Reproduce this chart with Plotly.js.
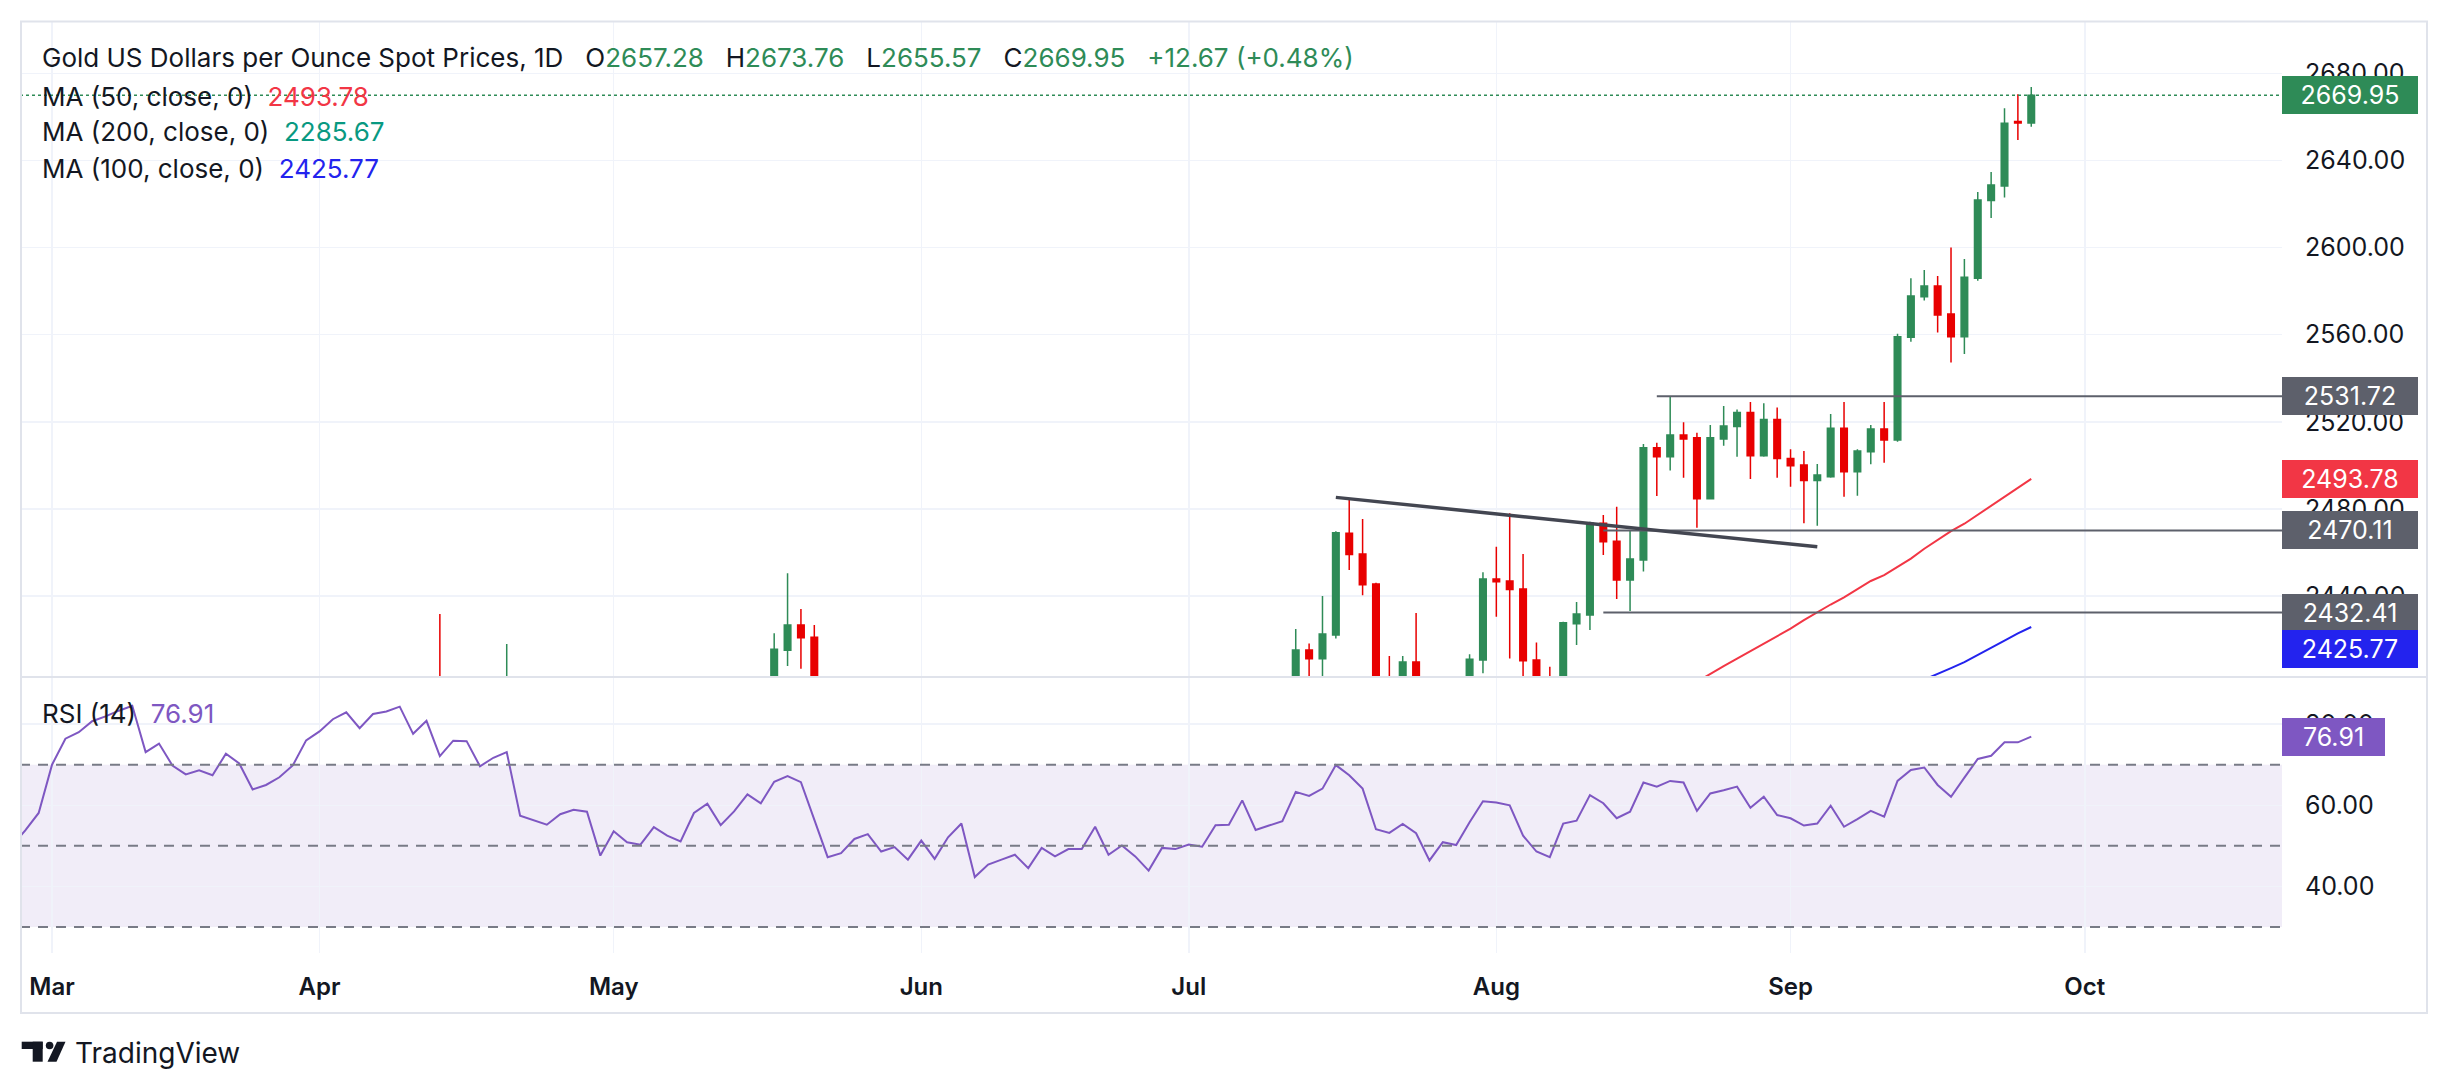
<!DOCTYPE html>
<html><head><meta charset="utf-8">
<script src="https://cdn.plot.ly/plotly-3.0.1.min.js"></script>
<style>html,body{margin:0;padding:0;background:#fff;} #chart{width:2449px;height:1091px;}</style>
</head><body><div id="chart"></div>
<script>
// ---------------- DATA ----------------
const tradingDays = [
 '2024-02-27','2024-02-28','2024-02-29',
 '2024-03-01','2024-03-04','2024-03-05','2024-03-06','2024-03-07','2024-03-08','2024-03-11','2024-03-12','2024-03-13','2024-03-14','2024-03-15','2024-03-18','2024-03-19','2024-03-20','2024-03-21','2024-03-22','2024-03-25','2024-03-26','2024-03-27','2024-03-28',
 '2024-04-01','2024-04-02','2024-04-03','2024-04-04','2024-04-05','2024-04-08','2024-04-09','2024-04-10','2024-04-11','2024-04-12','2024-04-15','2024-04-16','2024-04-17','2024-04-18','2024-04-19','2024-04-22','2024-04-23','2024-04-24','2024-04-25','2024-04-26','2024-04-29','2024-04-30',
 '2024-05-01','2024-05-02','2024-05-03','2024-05-06','2024-05-07','2024-05-08','2024-05-09','2024-05-10','2024-05-13','2024-05-14','2024-05-15','2024-05-16','2024-05-17','2024-05-20','2024-05-21','2024-05-22','2024-05-23','2024-05-24','2024-05-27','2024-05-28','2024-05-29','2024-05-30','2024-05-31',
 '2024-06-03','2024-06-04','2024-06-05','2024-06-06','2024-06-07','2024-06-10','2024-06-11','2024-06-12','2024-06-13','2024-06-14','2024-06-17','2024-06-18','2024-06-19','2024-06-20','2024-06-21','2024-06-24','2024-06-25','2024-06-26','2024-06-27','2024-06-28',
 '2024-07-01','2024-07-02','2024-07-03','2024-07-04','2024-07-05','2024-07-08','2024-07-09','2024-07-10','2024-07-11','2024-07-12','2024-07-15','2024-07-16','2024-07-17','2024-07-18','2024-07-19','2024-07-22','2024-07-23','2024-07-24','2024-07-25','2024-07-26','2024-07-29','2024-07-30','2024-07-31',
 '2024-08-01','2024-08-02','2024-08-05','2024-08-06','2024-08-07','2024-08-08','2024-08-09','2024-08-12','2024-08-13','2024-08-14','2024-08-15','2024-08-16','2024-08-19','2024-08-20','2024-08-21','2024-08-22','2024-08-23','2024-08-26','2024-08-27','2024-08-28','2024-08-29','2024-08-30',
 '2024-09-02','2024-09-03','2024-09-04','2024-09-05','2024-09-06','2024-09-09','2024-09-10','2024-09-11','2024-09-12','2024-09-13','2024-09-16','2024-09-17','2024-09-18','2024-09-19','2024-09-20','2024-09-23','2024-09-24','2024-09-25','2024-09-26'
];
const rsiValues = [
 50.0,53.8,58.1,
 70.0,76.4,78.0,80.7,81.9,83.3,84.5,73.1,75.2,69.8,67.6,68.6,67.4,72.7,70.3,63.9,65.0,66.9,69.8,76.0,
 78.2,81.2,82.9,79.0,82.5,83.1,84.3,77.6,80.8,72.1,75.9,75.8,69.6,71.7,73.1,57.4,56.3,55.2,57.8,58.9,58.4,47.6,
 53.6,50.9,50.3,54.6,52.5,51.1,58.1,60.4,55.1,58.5,62.7,60.5,65.8,67.2,65.7,56.4,47.2,48.2,51.7,52.9,48.6,49.7,46.6,
 51.3,46.8,52.1,55.5,42.3,45.4,46.6,47.8,44.5,49.5,47.4,49.2,49.2,54.7,47.8,50.1,47.4,43.9,49.5,49.2,
 50.3,49.8,55.1,55.2,61.2,53.9,55.0,56.1,63.3,62.3,64.1,69.9,67.4,64.1,54.1,53.2,55.4,53.1,46.4,50.9,50.2,55.8,61.0,
 60.7,60.0,52.5,48.6,47.2,55.5,56.2,62.5,60.5,56.8,58.4,65.6,64.6,66.0,65.6,58.6,62.9,63.7,64.6,59.4,62.1,57.6,
 56.8,55.0,55.5,59.9,54.7,56.6,58.6,57.2,66.0,68.7,69.3,65.0,62.1,66.8,71.4,72.2,75.5,75.5,76.91
];
const candleDates = [
 '2024-04-12','2024-04-19','2024-05-17','2024-05-20','2024-05-21','2024-05-22',
 '2024-07-11','2024-07-12','2024-07-15','2024-07-16','2024-07-17','2024-07-18','2024-07-19','2024-07-22','2024-07-23','2024-07-24','2024-07-25','2024-07-26','2024-07-29','2024-07-30','2024-07-31',
 '2024-08-01','2024-08-02','2024-08-05','2024-08-06','2024-08-07','2024-08-08','2024-08-09','2024-08-12','2024-08-13','2024-08-14','2024-08-15','2024-08-16','2024-08-19','2024-08-20','2024-08-21','2024-08-22','2024-08-23','2024-08-26','2024-08-27','2024-08-28','2024-08-29','2024-08-30',
 '2024-09-02','2024-09-03','2024-09-04','2024-09-05','2024-09-06','2024-09-09','2024-09-10','2024-09-11','2024-09-12','2024-09-13','2024-09-16','2024-09-17','2024-09-18','2024-09-19','2024-09-20','2024-09-23','2024-09-24','2024-09-25','2024-09-26'
];
const candleOpen = [
 2373,2379,2377,2415.1,2426.7,2421.1,
 2371,2415.2,2411.2,2422.1,2468.8,2459.3,2445.5,2400.5,2396,2409.7,2397,2365,2387,2384,2410.6,
 2447.8,2446.9,2443.2,2410.6,2390,2382,2427.3,2431.3,2473.4,2465.2,2447.3,2456.5,2508.1,2504.0,2513.9,2512.7,2484.7,2512.1,2517.8,2524.3,2504.4,2521.1,
 2503.2,2500.2,2493.0,2494.8,2517.0,2497.1,2506.3,2516.7,2511.6,2558.8,2577.5,2582.4,2569.5,2559.1,2585.9,2621.6,2628.3,2657.9,2657.28
];
const candleHigh = [
 2431.7,2417.9,2422.9,2450.4,2434.0,2426.7,
 2424.8,2418.2,2440.0,2469.8,2484.1,2475.4,2446.1,2412.4,2412.4,2432.2,2400,2390,2393,2413.3,2450.9,
 2462.6,2478.0,2459.3,2418.7,2407.5,2428.2,2437.2,2474.1,2477.2,2481.0,2470.3,2509.8,2510.4,2531.72,2519.8,2515.0,2518.5,2527.3,2525.7,2529.1,2528.5,2526.6,
 2507.4,2506.6,2500.6,2523.6,2529.1,2507.4,2518.5,2529.1,2560.5,2585.9,2589.7,2587.0,2600.1,2594.8,2625.6,2634.8,2664.0,2670.4,2673.76
];
const candleLow = [
 2344,2371,2376,2407.8,2406.6,2374,
 2370,2392,2400,2420.5,2451.9,2440.4,2394,2385,2391,2396,2353,2364,2376,2380,2404.5,
 2430.5,2411.3,2364,2387,2376,2377,2417.5,2424.4,2458.8,2438.6,2433.1,2451.2,2485.9,2497.6,2494.3,2471.4,2484.5,2509.0,2504.0,2493.7,2504.0,2494.3,
 2490.2,2473.4,2472.3,2494.3,2485.6,2486.1,2500.5,2501.2,2510.8,2556.8,2575.7,2561.0,2547.2,2551.2,2584.8,2613.6,2623.0,2649.5,2655.57
];
const candleClose = [
 2344,2392,2415.5,2426.7,2420.8,2379,
 2415.2,2411.2,2422.5,2469.1,2459.1,2445.2,2400.5,2396,2409.7,2397,2365,2387,2384,2411.0,2447.8,
 2446.6,2443.0,2410.3,2390,2382,2427.7,2431.7,2473.4,2464.9,2447.3,2457.0,2508.1,2504.0,2513.9,2512.1,2484.7,2512.7,2518.1,2524.3,2504.4,2521.1,2503.1,
 2499.8,2493.0,2495.6,2517.0,2497.1,2506.6,2516.7,2511.6,2559.1,2577.8,2582.4,2569.1,2559.1,2586.4,2621.9,2628.8,2657.1,2657.28,2669.95
];
const ma50Dates = ['2024-08-22','2024-08-23','2024-08-26','2024-08-27','2024-08-28','2024-08-29','2024-08-30','2024-09-02','2024-09-03','2024-09-04','2024-09-05','2024-09-06','2024-09-09','2024-09-10','2024-09-11','2024-09-12','2024-09-13','2024-09-16','2024-09-17','2024-09-18','2024-09-19','2024-09-20','2024-09-23','2024-09-24','2024-09-25','2024-09-26'];
const ma50Values = [2400.6,2404.4,2407.8,2411.2,2414.6,2418.0,2421.5,2425.0,2428.9,2432.7,2436.1,2439.4,2443.0,2446.9,2449.6,2453.3,2457.2,2461.7,2465.7,2469.8,2473.2,2477.3,2481.3,2485.5,2489.6,2493.78];
const ma100Dates = ['2024-09-16','2024-09-17','2024-09-18','2024-09-19','2024-09-20','2024-09-23','2024-09-24','2024-09-25','2024-09-26'];
const ma100Values = [2401.6,2404.4,2406.9,2409.6,2412.8,2416.0,2419.5,2422.8,2425.77];
const ma200Last = 2285.67;
const prevClose = 2657.28;
const levelStarts = ['2024-08-19','2024-08-13','2024-08-13'];
const levelValues = [2531.72,2470.11,2432.41];
const trendDates = ['2024-07-16','2024-09-04'];
const trendValues = [2485.3,2462.6];
const monthTickDates = ['2024-03-01','2024-04-01','2024-05-01','2024-06-03','2024-07-01','2024-08-01','2024-09-02','2024-10-02'];
const monthTickLabels = ['Mar','Apr','May','Jun','Jul','Aug','Sep','Oct'];
const priceTicks = [2440,2480,2520,2560,2600,2640,2680];
const rsiTicks = [40,60,80];
const rsiLevels = [70,50,30];

// ---------------- STYLE / LAYOUT ----------------
const FONT = 'Inter, "Noto Sans", sans-serif';
const TXT = '#131722';
const UP = '#2E8B57', DOWN = '#E80000';
const MA50C = '#F23645', MA200C = '#089981', MA100C = '#2323EE', RSIC = '#7E57C2';
const GRID = '#F0F3FA', LEVELC = '#5D606B';
const X_RANGE = ['2024-02-27 14:30', '2024-10-22 18:00'];
const ML = 20, MR = 167, MT = 21, MB = 138, W = 2449, H = 1091;
const PW = W - ML - MR, PH = H - MT - MB;
const px2x = p => (p - ML) / PW;
const py2y = p => (H - MB - p) / PH;
const splitY = py2y(677);

const n = candleClose.length;
const lastClose = candleClose[n-1];
const chg = lastClose - prevClose;
const chgPct = chg / prevClose * 100;
const g = v => `<span style="color:${UP}">${v}</span>`;
const sp = '\u00a0\u00a0\u00a0';

const traces = [
 {type:'candlestick', x:candleDates, open:candleOpen, high:candleHigh, low:candleLow, close:candleClose,
  xaxis:'x', yaxis:'y', whiskerwidth:0,
  increasing:{line:{color:UP,width:1.5}, fillcolor:UP},
  decreasing:{line:{color:DOWN,width:1.5}, fillcolor:DOWN}, hoverinfo:'skip'},
 {type:'scatter', mode:'lines', x:ma50Dates, y:ma50Values, xaxis:'x', yaxis:'y', line:{color:MA50C,width:2}, hoverinfo:'skip'},
 {type:'scatter', mode:'lines', x:ma100Dates, y:ma100Values, xaxis:'x', yaxis:'y', line:{color:MA100C,width:2}, hoverinfo:'skip'},
 {type:'scatter', mode:'lines', x:tradingDays, y:rsiValues, xaxis:'x', yaxis:'y2', line:{color:RSIC,width:2}, hoverinfo:'skip'}
];

const shapes = [];
shapes.push({type:'rect', xref:'paper', yref:'y2', x0:0, x1:1, y0:30, y1:70, fillcolor:'rgba(126,87,194,0.11)', line:{width:0}, layer:'below'});
rsiLevels.forEach(v => shapes.push({type:'line', xref:'paper', yref:'y2', x0:0, x1:1, y0:v, y1:v, line:{color:'#787B86', width:2, dash:'10px,8px'}}));
shapes.push({type:'line', xref:'paper', yref:'y', x0:0, x1:1, y0:lastClose, y1:lastClose, line:{color:UP, width:1.5, dash:'dot'}});
levelValues.forEach((v,i) => shapes.push({type:'line', xref:'x', yref:'y', x0:levelStarts[i], x1:X_RANGE[1], y0:v, y1:v, line:{color:LEVELC, width:2}}));
shapes.push({type:'line', xref:'x', yref:'y', x0:trendDates[0], x1:trendDates[1], y0:trendValues[0], y1:trendValues[1], line:{color:'#434651', width:3.5}});
// frame and pane separator
shapes.push({type:'rect', xref:'paper', yref:'paper', x0:px2x(21), x1:px2x(2427), y0:py2y(1013), y1:py2y(21.5), line:{color:'#E0E3EB', width:2}, fillcolor:'rgba(0,0,0,0)', layer:'above'});
shapes.push({type:'line', xref:'paper', yref:'paper', x0:px2x(21), x1:px2x(2427), y0:splitY, y1:splitY, line:{color:'#E0E3EB', width:2}});
// TradingView logo
const LOGO = '#131722';
shapes.push({type:'rect', xref:'paper', yref:'paper', x0:px2x(21.7), x1:px2x(42.7), y0:py2y(1049), y1:py2y(1041.7), fillcolor:LOGO, line:{width:0}});
shapes.push({type:'rect', xref:'paper', yref:'paper', x0:px2x(32.7), x1:px2x(42.7), y0:py2y(1061.7), y1:py2y(1041.7), fillcolor:LOGO, line:{width:0}});
shapes.push({type:'circle', xref:'paper', yref:'paper', x0:px2x(45.8), x1:px2x(53.4), y0:py2y(1049.3), y1:py2y(1041.7), fillcolor:LOGO, line:{width:0}});
shapes.push({type:'path', xref:'paper', yref:'paper', fillcolor:LOGO, line:{width:0},
  path:`M${px2x(57)},${py2y(1041.7)} L${px2x(65.5)},${py2y(1041.7)} L${px2x(56.5)},${py2y(1061.7)} L${px2x(47.5)},${py2y(1061.7)} Z`});

function priceLabel(yref, v, color, w, yshift) {
  return {xref:'paper', yref:yref, x:1, y:v, xanchor:'left', yanchor:'middle', showarrow:false,
    text:v.toFixed(2), font:{family:FONT, size:25, color:'#ffffff'}, bgcolor:color,
    width:w, height:34, borderpad:2, borderwidth:0, align:'center', yshift:yshift||0};
}
function legendText(py, text) {
  return {xref:'paper', yref:'paper', x:px2x(40), y:py2y(py), xanchor:'left', yanchor:'middle', showarrow:false,
    text:text, font:{family:FONT, size:26, color:TXT}, align:'left'};
}
const annotations = [
 legendText(57, `Gold US Dollars per Ounce Spot Prices, 1D${sp}O${g(candleOpen[n-1].toFixed(2))}${sp}H${g(candleHigh[n-1].toFixed(2))}${sp}L${g(candleLow[n-1].toFixed(2))}${sp}C${g(lastClose.toFixed(2))}${sp}${g((chg>=0?'+':'')+chg.toFixed(2)+' ('+(chgPct>=0?'+':'')+chgPct.toFixed(2)+'%)')}`),
 legendText(96.7, `MA (50, close, 0)\u00a0\u00a0<span style="color:${MA50C}">${ma50Values[ma50Values.length-1].toFixed(2)}</span>`),
 legendText(131.7, `MA (200, close, 0)\u00a0\u00a0<span style="color:${MA200C}">${ma200Last.toFixed(2)}</span>`),
 legendText(168, `MA (100, close, 0)\u00a0\u00a0<span style="color:${MA100C}">${ma100Values[ma100Values.length-1].toFixed(2)}</span>`),
 legendText(713, `RSI (14)\u00a0\u00a0<span style="color:${RSIC}">${rsiValues[rsiValues.length-1].toFixed(2)}</span>`),
 priceLabel('y', lastClose, UP, 132),
 priceLabel('y', levelValues[0], LEVELC, 132),
 priceLabel('y', ma50Values[ma50Values.length-1], MA50C, 132),
 priceLabel('y', levelValues[1], LEVELC, 132),
 priceLabel('y', levelValues[2], LEVELC, 132),
 priceLabel('y', ma100Values[ma100Values.length-1], MA100C, 132, -22),
 priceLabel('y2', rsiValues[rsiValues.length-1], RSIC, 99),
 {xref:'paper', yref:'paper', x:px2x(73), y:py2y(1053), xanchor:'left', yanchor:'middle', showarrow:false,
  text:'TradingView', font:{family:FONT, size:28, color:TXT}}
];

const layout = {
  width:W, height:H, margin:{l:ML, r:MR, t:MT, b:MB, pad:0},
  paper_bgcolor:'#ffffff', plot_bgcolor:'#ffffff', showlegend:false, hovermode:false, dragmode:false,
  font:{family:FONT, color:TXT},
  xaxis:{type:'date', anchor:'y2', range:X_RANGE,
    rangebreaks:[{bounds:['sat','mon']},{values:['2024-03-29']}],
    rangeslider:{visible:false}, tickmode:'array', tickvals:monthTickDates, ticktext:monthTickLabels,
    ticks:'outside', ticklen:12, tickcolor:'rgba(0,0,0,0)',
    tickfont:{family:FONT, size:24, color:TXT, weight:600},
    showgrid:true, gridcolor:GRID, gridwidth:1.5, zeroline:false, showline:false},
  yaxis:{domain:[splitY,1], anchor:'x', side:'right', range:[2402.8,2704.1],
    tickmode:'array', tickvals:priceTicks, tickformat:'.2f',
    ticks:'outside', ticklen:17, tickcolor:'rgba(0,0,0,0)',
    tickfont:{family:FONT, size:25, color:TXT}, showgrid:true, gridcolor:GRID, gridwidth:1.5, zeroline:false, showline:false},
  yaxis2:{domain:[0,splitY], anchor:'x', side:'right', range:[23.6,91.6],
    tickmode:'array', tickvals:rsiTicks, tickformat:'.2f',
    ticks:'outside', ticklen:17, tickcolor:'rgba(0,0,0,0)',
    tickfont:{family:FONT, size:25, color:TXT}, showgrid:true, gridcolor:GRID, gridwidth:1.5, zeroline:false, showline:false},
  shapes:shapes, annotations:annotations, boxgap:0.3
};

Plotly.newPlot('chart', traces, layout, {staticPlot:true, displayModeBar:false});
</script>
</body></html>
